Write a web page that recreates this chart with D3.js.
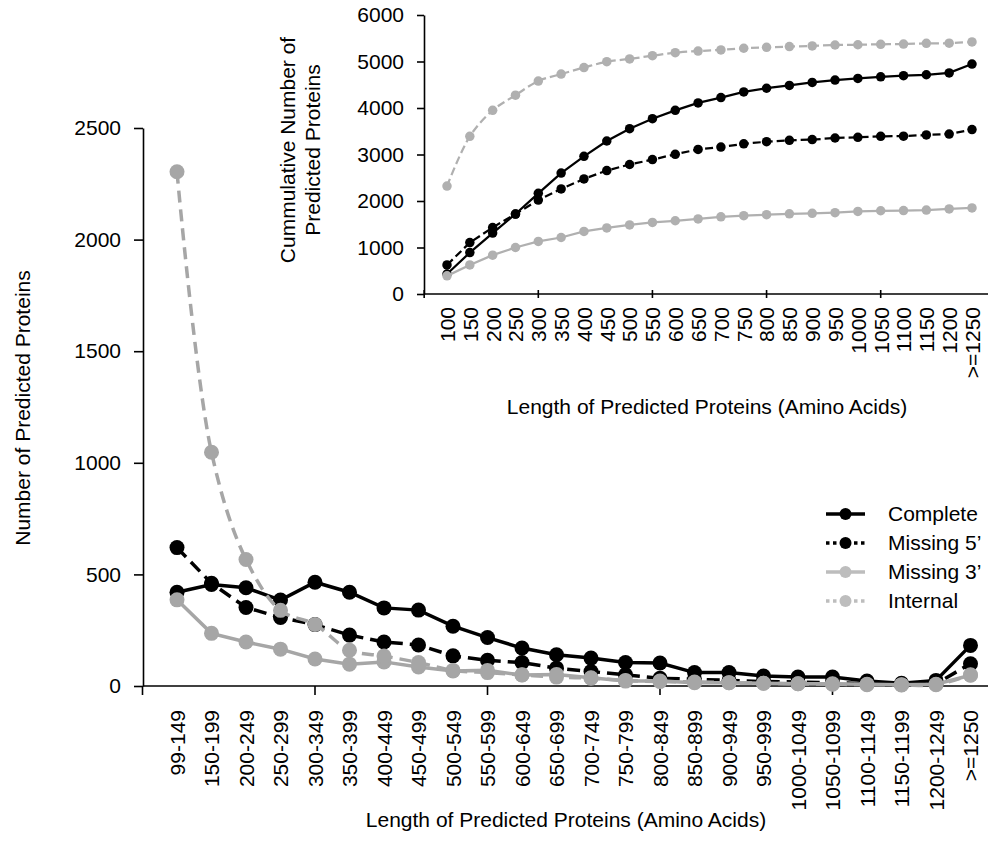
<!DOCTYPE html>
<html>
<head>
<meta charset="utf-8">
<script src="https://cdn.jsdelivr.net/npm/d3@7/dist/d3.min.js"></script>
<style>
  html, body { margin: 0; padding: 0; background: #fff; }
  svg { display: block; }
  text { font-family: "Liberation Sans", Arial, sans-serif; fill: #000; }
</style>
</head>
<body>
<svg id="chart" width="990" height="864"></svg>
<script>
// ---------- Main chart data ----------
const categories = ["99-149","150-199","200-249","250-299","300-349","350-399","400-449","450-499",
  "500-549","550-599","600-649","650-699","700-749","750-799","800-849","850-899","900-949",
  "950-999","1000-1049","1050-1099","1100-1149","1150-1199","1200-1249",">=1250"];
const complete = [420, 455, 440, 385, 465, 420, 350, 340, 268, 217, 170, 140, 125, 105, 103, 60, 60, 45, 40, 40, 22, 12, 25, 182];
const missing5 = [620, 460, 352, 307, 275, 228, 197, 184, 135, 115, 105, 80, 65, 50, 35, 30, 25, 20, 18, 15, 10, 8, 10, 100];
const missing3 = [386, 236, 197, 165, 121, 98, 108, 85, 67, 70, 49, 52, 37, 22, 22, 15, 15, 12, 10, 10, 8, 6, 8, 48];
const internal = [2304, 1047, 567, 339, 276, 160, 134, 105, 70, 60, 50, 40, 35, 25, 20, 18, 15, 12, 10, 8, 6, 5, 6, 50];
const mainYTicks = [0, 500, 1000, 1500, 2000, 2500];

// ---------- Inset (cumulative) data ----------
const insetCategories = ["100","150","200","250","300","350","400","450","500","550","600","650",
  "700","750","800","850","900","950","1000","1050","1100","1150","1200",">=1250"];
const cumComplete = [430, 890, 1310, 1720, 2165, 2600, 2960, 3290, 3555, 3770, 3950, 4110, 4225, 4345, 4425, 4485, 4550, 4600, 4635, 4670, 4695, 4715, 4755, 4945];
const cumMissing5 = [625, 1105, 1430, 1720, 2020, 2260, 2475, 2655, 2785, 2890, 3005, 3110, 3160, 3230, 3275, 3305, 3320, 3355, 3370, 3390, 3395, 3420, 3440, 3535];
const cumMissing3 = [390, 625, 835, 1000, 1130, 1215, 1345, 1420, 1485, 1540, 1575, 1615, 1660, 1685, 1705, 1725, 1735, 1750, 1775, 1790, 1795, 1805, 1830, 1850];
const cumInternal = [2320, 3390, 3950, 4275, 4580, 4730, 4870, 4995, 5055, 5125, 5190, 5225, 5250, 5285, 5305, 5320, 5335, 5355, 5360, 5370, 5375, 5390, 5395, 5420];
const insetYTicks = [0, 1000, 2000, 3000, 4000, 5000, 6000];

const seriesNames = ["Complete", "Missing 5\u2019", "Missing 3\u2019", "Internal"];

const FONT = 21;
const GRAY = "#a6a6a6";
const GRAY_INSET = "#b0b0b0";
const svg = d3.select("#chart");
const fmt = d3.format("d");

// ================= MAIN CHART =================
const x = d3.scalePoint().domain(categories).range([177, 970.5]);
const y = d3.scaleLinear().domain([0, 2500]).range([686, 128]);
const step = x.step();

const main = svg.append("g");

// Y axis
const yAxis = d3.axisLeft(y).tickValues(mainYTicks).tickFormat(fmt).tickSize(9).tickPadding(13).tickSizeOuter(0);
const gy = main.append("g").attr("transform", "translate(143,0)").call(yAxis);
gy.select(".domain").attr("stroke", "#000").attr("stroke-width", 1.6);
gy.selectAll(".tick line").attr("stroke", "#000").attr("stroke-width", 1.6);
gy.selectAll(".tick text").style("font-size", FONT + "px").attr("fill", "#000");

// X axis (labels only)
const xAxis = d3.axisBottom(x).tickSize(0).tickPadding(0).tickSizeOuter(0);
const gx = main.append("g").attr("transform", "translate(0,686)").call(xAxis);
gx.select(".domain").remove();
gx.selectAll(".tick text")
  .style("font-size", FONT + "px")
  .attr("fill", "#000")
  .attr("text-anchor", "end")
  .attr("transform", "translate(0,24) rotate(-90)")
  .attr("x", 0).attr("y", 0).attr("dy", "0.35em");
// x axis line and ticks
main.append("line").attr("x1", 143).attr("x2", 988).attr("y1", 686).attr("y2", 686)
  .attr("stroke", "#000").attr("stroke-width", 1.6);
const xTickIdx = [-1, 4, 9, 14, 19];
main.selectAll(".xtick").data(xTickIdx).join("line")
  .attr("x1", i => x(categories[0]) + i * step)
  .attr("x2", i => x(categories[0]) + i * step)
  .attr("y1", 686).attr("y2", 695)
  .attr("stroke", "#000").attr("stroke-width", 1.6);

// Titles
main.append("text").attr("x", 566).attr("y", 827).attr("text-anchor", "middle")
  .style("font-size", FONT + "px").text("Length of Predicted Proteins (Amino Acids)");
main.append("text").attr("transform", "translate(23,408) rotate(-90)")
  .attr("text-anchor", "middle").attr("dy", "0.35em")
  .style("font-size", FONT + "px").text("Number of Predicted Proteins");

const mainSeries = [
  { name: seriesNames[0], values: complete, color: "#000", dash: null, smooth: false },
  { name: seriesNames[1], values: missing5, color: "#000", dash: "13,7", smooth: false },
  { name: seriesNames[2], values: missing3, color: GRAY, dash: null, smooth: false },
  { name: seriesNames[3], values: internal, color: GRAY, dash: "12,7", smooth: true }
];

mainSeries.forEach(s => {
  const ln = d3.line().x((d, i) => x(categories[i])).y(d => y(d))
    .curve(s.smooth ? d3.curveCatmullRom.alpha(0.5) : d3.curveLinear);
  const g = main.append("g");
  g.append("path").datum(s.values)
    .attr("d", ln).attr("fill", "none")
    .attr("stroke", s.color).attr("stroke-width", 3.5)
    .attr("stroke-dasharray", s.dash);
  g.selectAll("circle").data(s.values).join("circle")
    .attr("cx", (d, i) => x(categories[i])).attr("cy", d => y(d))
    .attr("r", 7.5).attr("fill", s.color);
});

// Legend
const legendY = [514, 543, 572, 601];
const legendStyles = [
  { color: "#000", dash: null },
  { color: "#000", dash: "3.5,3.5" },
  { color: "#bdbdbd", dash: null },
  { color: "#bdbdbd", dash: "3.5,3.5" }
];
const legend = svg.append("g");
seriesNames.forEach((n, i) => {
  const st = legendStyles[i];
  legend.append("line").attr("x1", 826).attr("x2", 865).attr("y1", legendY[i]).attr("y2", legendY[i])
    .attr("stroke", st.color).attr("stroke-width", 3.5).attr("stroke-dasharray", st.dash);
  legend.append("circle").attr("cx", 845.5).attr("cy", legendY[i]).attr("r", 6).attr("fill", st.color);
  legend.append("text").attr("x", 888).attr("y", legendY[i]).attr("dy", "0.35em")
    .style("font-size", FONT + "px").text(n);
});

// ================= INSET CHART =================
const xi = d3.scalePoint().domain(insetCategories).range([447, 972]);
const yi = d3.scaleLinear().domain([0, 6000]).range([294, 15]);
const stepI = xi.step();
const inset = svg.append("g");

const yAxisI = d3.axisLeft(yi).tickValues(insetYTicks).tickFormat(fmt).tickSize(7).tickPadding(13).tickSizeOuter(0);
const gyi = inset.append("g").attr("transform", "translate(424,0)").call(yAxisI);
gyi.select(".domain").attr("stroke", "#000").attr("stroke-width", 1.6);
gyi.selectAll(".tick line").attr("stroke", "#000").attr("stroke-width", 1.6);
gyi.selectAll(".tick text").style("font-size", FONT + "px").attr("fill", "#000");

const xAxisI = d3.axisBottom(xi).tickSize(0).tickPadding(0).tickSizeOuter(0);
const gxi = inset.append("g").attr("transform", "translate(0,294)").call(xAxisI);
gxi.select(".domain").remove();
gxi.selectAll(".tick text")
  .style("font-size", FONT + "px").attr("fill", "#000")
  .attr("text-anchor", "end")
  .attr("transform", "translate(0,13) rotate(-90)")
  .attr("x", 0).attr("y", 0).attr("dy", "0.35em");
inset.append("line").attr("x1", 424).attr("x2", 988).attr("y1", 294).attr("y2", 294)
  .attr("stroke", "#000").attr("stroke-width", 1.6);
inset.selectAll(".xtick").data(xTickIdx).join("line")
  .attr("x1", i => xi(insetCategories[0]) + i * stepI)
  .attr("x2", i => xi(insetCategories[0]) + i * stepI)
  .attr("y1", 290).attr("y2", 298)
  .attr("stroke", "#000").attr("stroke-width", 1.6);

inset.append("text").attr("x", 707).attr("y", 414).attr("text-anchor", "middle")
  .style("font-size", FONT + "px").text("Length of Predicted Proteins (Amino Acids)");
const yt = inset.append("text").attr("transform", "translate(300,150) rotate(-90)")
  .attr("text-anchor", "middle").style("font-size", FONT + "px");
yt.append("tspan").attr("x", 0).attr("dy", "-0.25em").text("Cummulative Number of");
yt.append("tspan").attr("x", 0).attr("dy", "1.2em").text("Predicted Proteins");

const insetSeries = [
  { values: cumComplete, color: "#000", dash: null, smooth: false },
  { values: cumMissing5, color: "#000", dash: "8,4", smooth: false },
  { values: cumMissing3, color: GRAY_INSET, dash: null, smooth: false },
  { values: cumInternal, color: GRAY_INSET, dash: "8,4", smooth: true }
];
insetSeries.forEach(s => {
  const ln = d3.line().x((d, i) => xi(insetCategories[i])).y(d => yi(d))
    .curve(s.smooth ? d3.curveCatmullRom.alpha(0.5) : d3.curveLinear);
  const g = inset.append("g");
  g.append("path").datum(s.values).attr("d", ln).attr("fill", "none")
    .attr("stroke", s.color).attr("stroke-width", 2.25).attr("stroke-dasharray", s.dash);
  g.selectAll("circle").data(s.values).join("circle")
    .attr("cx", (d, i) => xi(insetCategories[i])).attr("cy", d => yi(d))
    .attr("r", 4.75).attr("fill", s.color);
});
</script>
</body>
</html>
